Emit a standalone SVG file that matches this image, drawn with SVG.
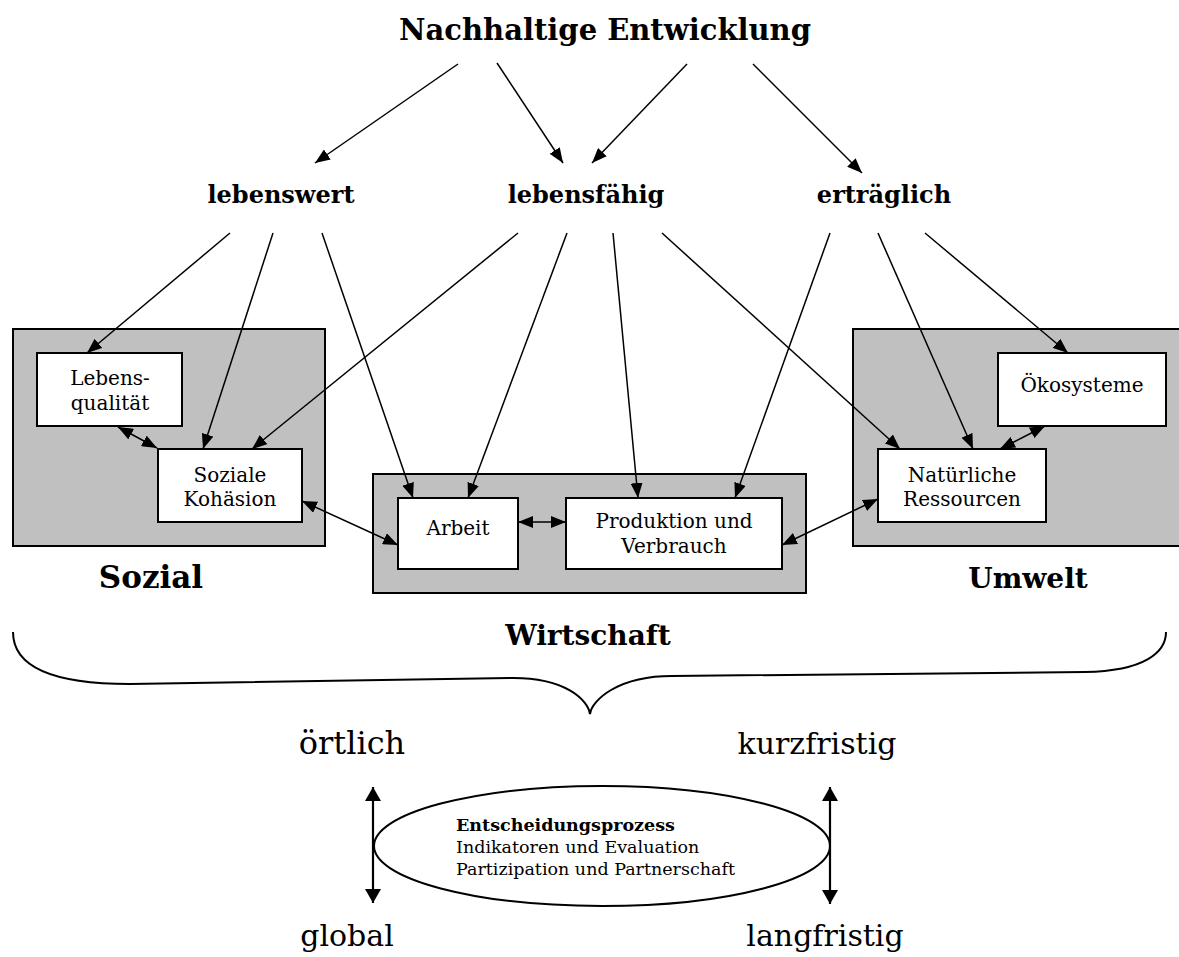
<svg xmlns="http://www.w3.org/2000/svg" width="1179" height="957" viewBox="0 0 1179 957">
<style>
text{font-family:"DejaVu Serif","Liberation Serif",serif;fill:#000}
.title{font-size:29px;font-weight:bold}
.lab{font-size:24px;font-weight:bold}
.grp{font-size:28px;font-weight:bold}
.box{font-size:20px}
.big{font-size:30px}
.ell{font-size:17.5px}
.gray{fill:#c0c0c0;stroke:#000;stroke-width:2}
.wbox{fill:#fff;stroke:#000;stroke-width:2}
.c{stroke:#000;stroke-width:1.5;fill:none;marker-end:url(#ah)}
.d{stroke:#000;stroke-width:1.5;fill:none;marker-start:url(#ah);marker-end:url(#ah)}
.v{stroke:#000;stroke-width:2.2;fill:none;marker-start:url(#vh);marker-end:url(#vh)}
</style>
<defs>
<marker id="ah" markerUnits="userSpaceOnUse" markerWidth="15" markerHeight="12" refX="15" refY="6" orient="auto-start-reverse"><path d="M0,0 L15,6 L0,12 z" fill="#000"/></marker>
<marker id="vh" markerUnits="userSpaceOnUse" markerWidth="14" markerHeight="16" refX="14" refY="8" orient="auto-start-reverse"><path d="M0,0 L14,8 L0,16 z" fill="#000"/></marker>
</defs>

<g id="title"><text class="title" x="605" y="40" text-anchor="middle">Nachhaltige Entwicklung</text></g>
<g id="lebenswert"><text class="lab" x="281" y="203" text-anchor="middle">lebenswert</text></g>
<g id="lebensfaehig"><text class="lab" x="586" y="203" text-anchor="middle">lebensfähig</text></g>
<g id="ertraeglich"><text class="lab" x="884" y="203" text-anchor="middle">erträglich</text></g>

<g id="sozial">
<rect class="gray" x="13" y="329" width="312" height="217"/>
<text class="grp" x="151" y="588" text-anchor="middle" style="font-size:31px">Sozial</text>
</g>
<g id="lebensqualitaet">
<rect class="wbox" x="37" y="353" width="145" height="73"/>
<text class="box" x="110" y="385" text-anchor="middle">Lebens-</text>
<text class="box" x="110" y="410" text-anchor="middle">qualität</text>
</g>
<g id="soziale-kohaesion">
<rect class="wbox" x="158" y="449" width="144" height="73"/>
<text class="box" x="230" y="482" text-anchor="middle">Soziale</text>
<text class="box" x="230" y="506" text-anchor="middle">Kohäsion</text>
</g>

<g id="wirtschaft">
<rect class="gray" x="373" y="474" width="433" height="119"/>
<text class="grp" x="588" y="645" text-anchor="middle">Wirtschaft</text>
</g>
<g id="arbeit">
<rect class="wbox" x="398" y="498" width="120" height="71"/>
<text class="box" x="458" y="535" text-anchor="middle">Arbeit</text>
</g>
<g id="produktion">
<rect class="wbox" x="566" y="498" width="216" height="71"/>
<text class="box" x="674" y="528" text-anchor="middle">Produktion und</text>
<text class="box" x="674" y="553" text-anchor="middle">Verbrauch</text>
</g>

<g id="umwelt">
<rect class="gray" x="853" y="329" width="340" height="217"/>
<text class="grp" x="1028" y="588" text-anchor="middle">Umwelt</text>
</g>
<g id="oekosysteme">
<rect class="wbox" x="998" y="353" width="168" height="73"/>
<text class="box" x="1082" y="392" text-anchor="middle">Ökosysteme</text>
</g>
<g id="ressourcen">
<rect class="wbox" x="878" y="449" width="168" height="73"/>
<text class="box" x="962" y="482" text-anchor="middle">Natürliche</text>
<text class="box" x="962" y="506" text-anchor="middle">Ressourcen</text>
</g>

<g id="brace">
<path d="M13,632 C13,668 55,684 130,684 L510,678 C565,677 588,700 590,714 C592,700 618,676 672,676 L1085,672 C1145,671 1166,652 1166,632" fill="none" stroke="#000" stroke-width="2"/>
</g>

<g id="orte">
<text class="big" x="352" y="754" text-anchor="middle" style="font-size:32px">örtlich</text>
<text class="big" x="347" y="946" text-anchor="middle">global</text>
</g>
<g id="fristen">
<text class="big" x="817" y="754" text-anchor="middle">kurzfristig</text>
<text class="big" x="825" y="946" text-anchor="middle">langfristig</text>
</g>

<g id="entscheidungsprozess">
<ellipse cx="602" cy="846" rx="228" ry="60" fill="#fff" stroke="#000" stroke-width="2"/>
<text class="ell" x="456" y="831" font-weight="bold">Entscheidungsprozess</text>
<text class="ell" x="456" y="853">Indikatoren und Evaluation</text>
<text class="ell" x="456" y="875">Partizipation und Partnerschaft</text>
</g>

<g id="connectors">
<line class="c" x1="458" y1="64" x2="315" y2="163"/>
<line class="c" x1="497" y1="63" x2="563" y2="163"/>
<line class="c" x1="687" y1="64" x2="592" y2="163"/>
<line class="c" x1="753" y1="64" x2="862" y2="173"/>
<line class="c" x1="230" y1="233" x2="87" y2="353"/>
<line class="c" x1="273" y1="233" x2="203" y2="449"/>
<line class="c" x1="322" y1="233" x2="413" y2="498"/>
<line class="c" x1="518" y1="233" x2="252" y2="449"/>
<line class="c" x1="567" y1="233" x2="468" y2="498"/>
<line class="c" x1="613" y1="233" x2="638" y2="498"/>
<line class="c" x1="662" y1="233" x2="900" y2="449"/>
<line class="c" x1="830" y1="233" x2="735" y2="498"/>
<line class="c" x1="878" y1="233" x2="973" y2="449"/>
<line class="c" x1="925" y1="233" x2="1068" y2="353"/>
<line class="d" x1="118" y1="427" x2="157" y2="448"/>
<line class="d" x1="302" y1="501" x2="398" y2="545"/>
<line class="d" x1="518" y1="522" x2="566" y2="522"/>
<line class="d" x1="782" y1="545" x2="878" y2="499"/>
<line class="d" x1="1000" y1="449" x2="1045" y2="426"/>
<line class="v" x1="373" y1="787" x2="373" y2="903"/>
<line class="v" x1="830" y1="787" x2="830" y2="904"/>
</g>
</svg>
